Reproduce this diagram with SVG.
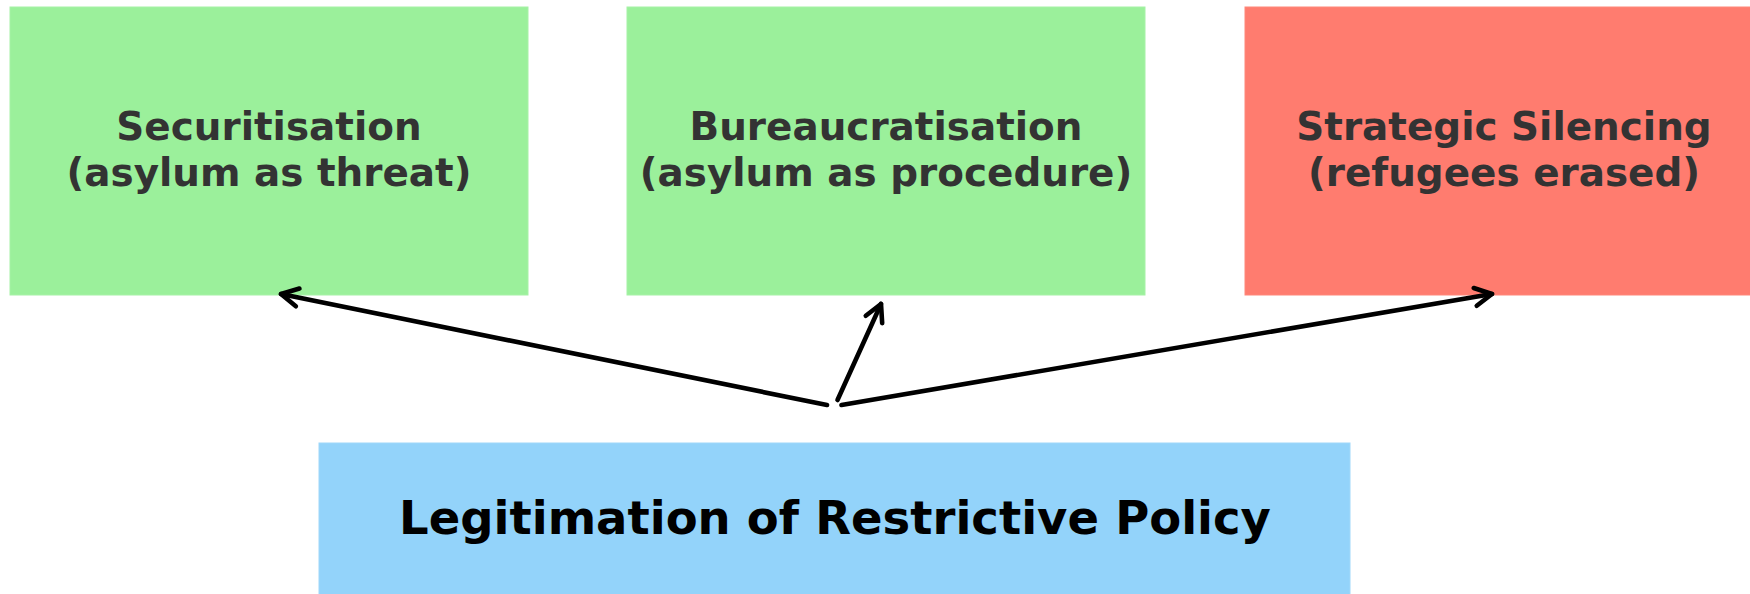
<svg xmlns="http://www.w3.org/2000/svg" width="1750" height="594" viewBox="0 0 1750 594">
<defs>
<style>
.box{stroke-width:1}
.lbl{font-family:"DejaVu Sans",sans-serif;font-weight:bold;text-anchor:middle;fill:#333333;font-size:38.9px}
.main{font-family:"DejaVu Sans",sans-serif;font-weight:bold;text-anchor:middle;fill:#000000;font-size:46.5px}
.edge{fill:none;stroke:#000;stroke-width:4.6;stroke-linecap:round;marker-end:url(#ah)}
</style>
<marker id="ah" markerUnits="userSpaceOnUse" viewBox="-22 -14 26 28" refX="0" refY="0" markerWidth="26" markerHeight="28" orient="auto">
<path d="M -17 -9 L 0 0 L -17 9" fill="none" stroke="#000" stroke-width="4.6" stroke-linecap="round" stroke-linejoin="round"/>
</marker>
</defs>
<rect width="1750" height="594" fill="#ffffff"/>
<g id="securitisation">
<rect class="box" x="10" y="7" width="518" height="288" fill="#9BF09B" stroke="#a6f2a6"/>
<text class="lbl" x="269" y="140">Securitisation</text>
<text class="lbl" x="269" y="186">(asylum as threat)</text>
</g>
<g id="bureaucratisation">
<rect class="box" x="627" y="7" width="518" height="288" fill="#9BF09B" stroke="#a6f2a6"/>
<text class="lbl" x="886" y="140">Bureaucratisation</text>
<text class="lbl" x="886" y="186">(asylum as procedure)</text>
</g>
<g id="silencing">
<rect class="box" x="1245" y="7" width="518" height="288" fill="#FF7C6F" stroke="#ff877b"/>
<text class="lbl" x="1504" y="140">Strategic Silencing</text>
<text class="lbl" x="1504" y="186">(refugees erased)</text>
</g>
<g id="legitimation">
<rect class="box" x="319" y="443" width="1031" height="200" fill="#93D3FA" stroke="#a0d8fa"/>
<text class="main" x="835" y="534">Legitimation of Restrictive Policy</text>
</g>
<g id="connectors">
<line class="edge" x1="827" y1="405" x2="281" y2="294"/>
<line class="edge" x1="837.5" y1="400" x2="881" y2="304"/>
<line class="edge" x1="841.5" y1="405" x2="1492" y2="294"/>
</g>
</svg>
